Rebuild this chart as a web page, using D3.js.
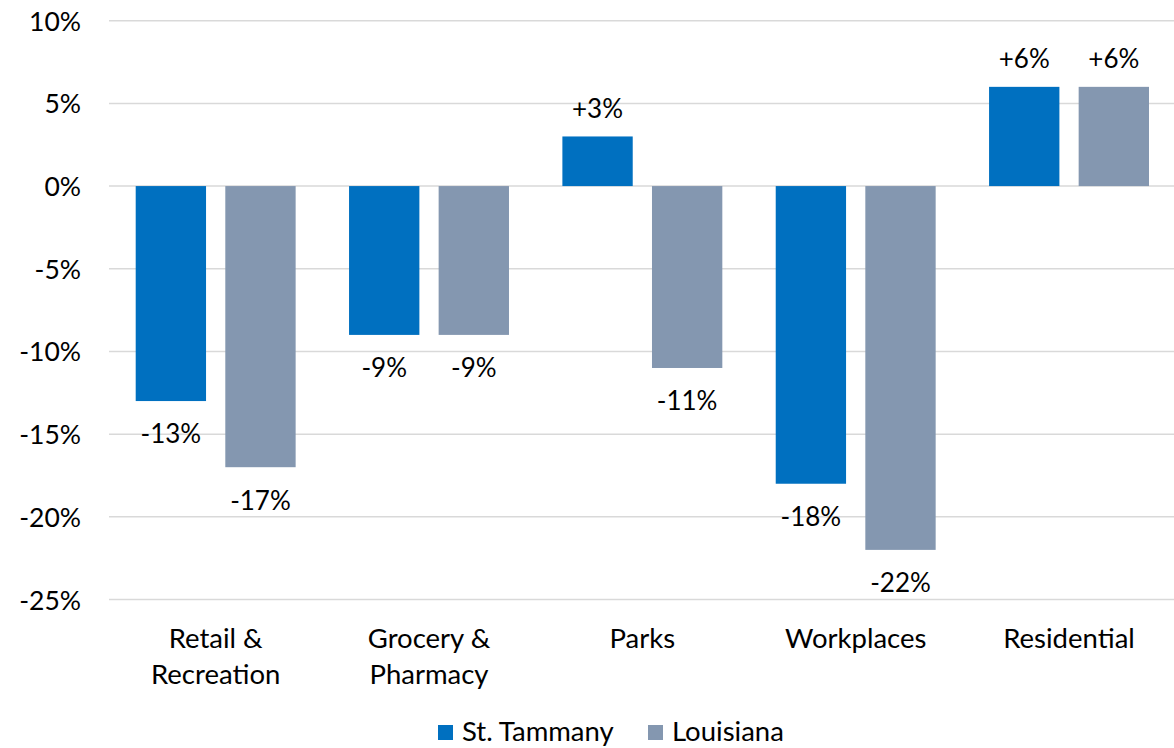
<!DOCTYPE html>
<html>
<head>
<meta charset="utf-8">
<script src="https://cdn.jsdelivr.net/npm/d3@7"></script>
<style>
  body { margin: 0; background: #fff; }
  svg text { font-family: Lato, "Open Sans", sans-serif; fill: #000; }
</style>
</head>
<body>
<div class="container"></div>
<script>
const categories = [["Retail &", "Recreation"], ["Grocery &", "Pharmacy"], ["Parks"], ["Workplaces"], ["Residential"]];
const seriesNames = ["St. Tammany", "Louisiana"];
const stTammany = [-13, -9, 3, -18, 6];
const louisiana = [-17, -9, -11, -22, 6];
const yTicks = [10, 5, 0, -5, -10, -15, -20, -25];
const colors = ["#0070C0", "#8497B0"];

const w = 1174, h = 748,
    padding = { top: 20.7, bottom: 148.5, left: 109, right: -1.7 };

const seriesValues = [stTammany, louisiana];
const rows = categories.map((c, i) => ({ key: i, label: c, values: seriesValues.map((s, j) => ({ series: j, value: s[i] })) }));

const xScale = d3.scaleBand()
    .domain(rows.map(d => d.key))
    .range([padding.left, w - padding.right])
    .padding(0);

const x1 = d3.scaleBand()
    .domain([0, 1])
    .range([0, xScale.bandwidth()])
    .paddingInner(0.215)
    .paddingOuter(0.298);

const yScale = d3.scaleLinear()
    .domain([10, -25])
    .range([padding.top, h - padding.bottom]);

const svg = d3.select("div.container")
    .append("svg")
    .attr("width", w)
    .attr("height", h);

// gridlines
svg.append("g")
    .selectAll("line")
    .data(yTicks)
    .enter()
    .append("line")
    .attr("x1", padding.left)
    .attr("x2", w)
    .attr("y1", d => yScale(d))
    .attr("y2", d => yScale(d))
    .attr("stroke", "#D9D9D9")
    .attr("stroke-width", 1.5);

const yAxis = d3.axisLeft(yScale)
    .tickValues(yTicks)
    .tickSize(0)
    .tickPadding(0)
    .tickFormat(d => d + "%");

svg.append("g")
    .attr("id", "y-axis")
    .attr("transform", "translate(81,0)")
    .call(yAxis)
    .call(g => g.select(".domain").remove())
    .selectAll("text")
    .attr("font-size", 26.5)
    .attr("dy", "0.36em");

const groups = svg.selectAll("g.group")
    .data(rows)
    .enter()
    .append("g")
    .attr("class", "group")
    .attr("transform", d => "translate(" + xScale(d.key) + ",0)");

groups.selectAll("rect")
    .data(d => d.values)
    .enter()
    .append("rect")
    .attr("x", d => x1(d.series))
    .attr("width", x1.bandwidth())
    .attr("y", d => yScale(Math.max(0, d.value)))
    .attr("height", d => Math.abs(yScale(d.value) - yScale(0)))
    .attr("fill", d => colors[d.series]);

groups.selectAll("text.val")
    .data(d => d.values)
    .enter()
    .append("text")
    .attr("class", "val")
    .attr("x", d => x1(d.series) + x1.bandwidth() / 2)
    .attr("y", d => d.value >= 0 ? yScale(d.value) - 28 : yScale(d.value) + 33)
    .attr("dy", "0.36em")
    .attr("text-anchor", "middle")
    .attr("font-size", 26)
    .text(d => (d.value > 0 ? "+" : "") + d.value + "%");

// category labels
groups.append("text")
    .attr("x", xScale.bandwidth() / 2)
    .attr("y", 638)
    .attr("text-anchor", "middle")
    .attr("font-size", 27.5)
    .selectAll("tspan")
    .data(d => d.label)
    .enter()
    .append("tspan")
    .attr("x", xScale.bandwidth() / 2)
    .attr("dy", (d, i) => i === 0 ? "0.36em" : 36)
    .text(d => d);

// legend
const legendX = [438, 648];
const legend = svg.append("g").attr("id", "legend");
seriesNames.forEach((name, i) => {
    legend.append("rect")
        .attr("x", legendX[i])
        .attr("y", 725)
        .attr("width", 15)
        .attr("height", 15)
        .attr("fill", colors[i]);
    legend.append("text")
        .attr("x", legendX[i] + 24)
        .attr("y", 731)
        .attr("dy", "0.36em")
        .attr("font-size", 27.5)
        .text(name);
});
</script>
</body>
</html>
